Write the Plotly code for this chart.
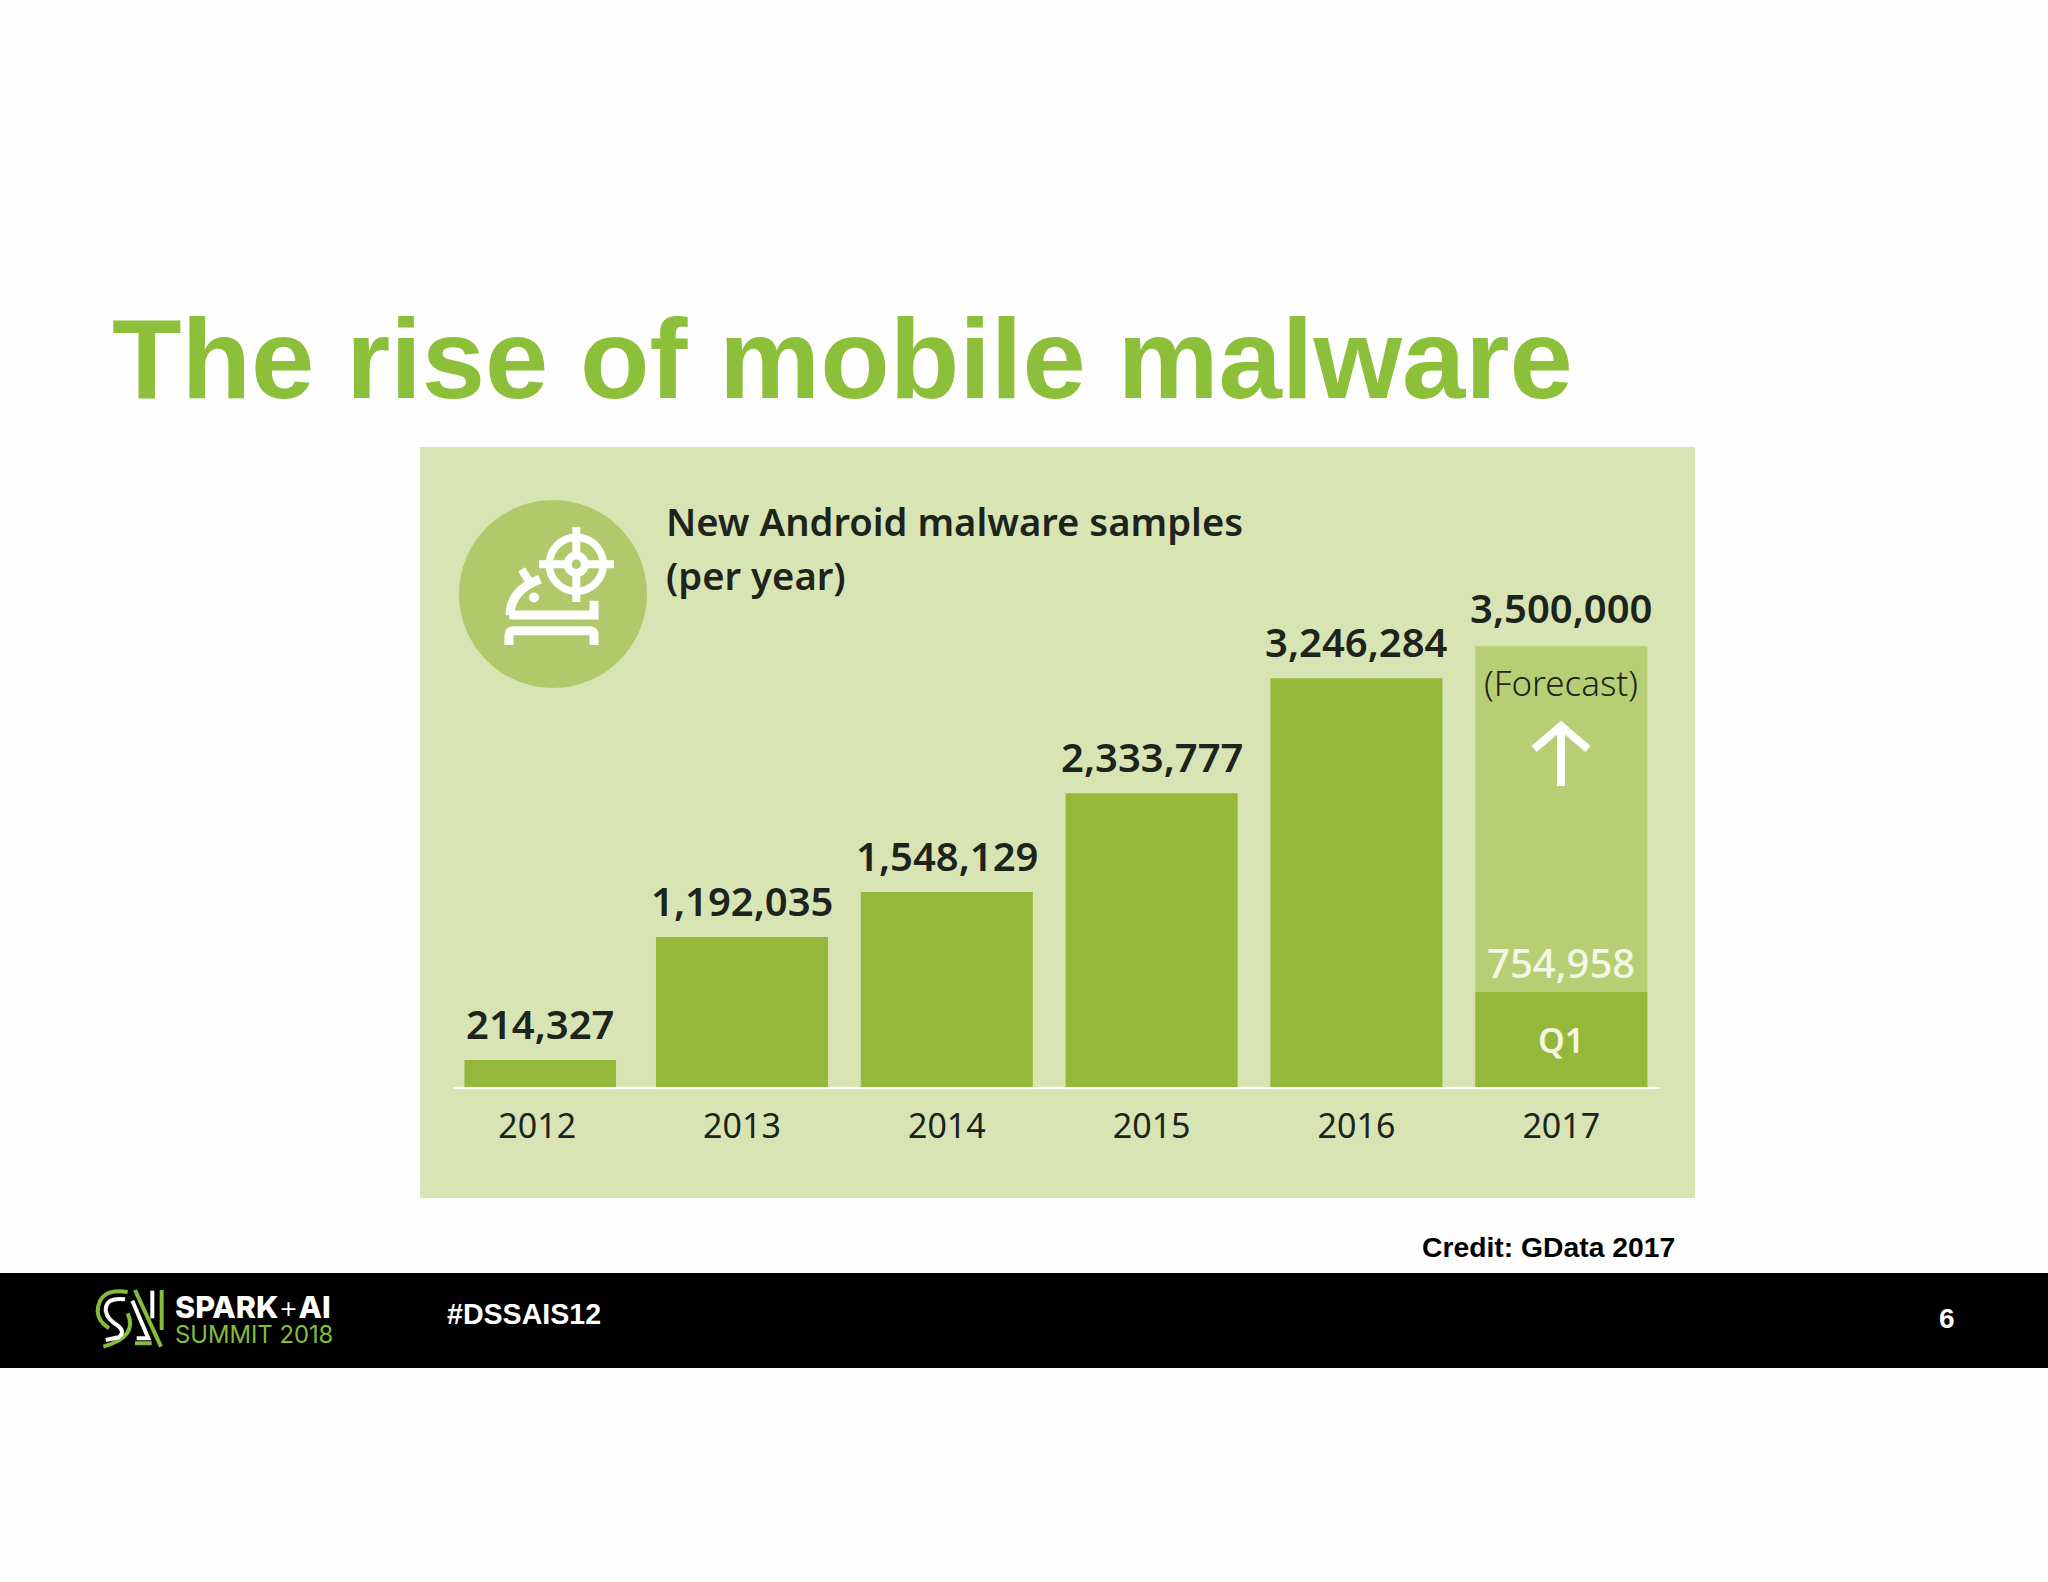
import plotly.graph_objects as go

W = 2048
H = 1582

# chart data
years = ["2012", "2013", "2014", "2015", "2016", "2017"]
samples = [214327, 1192035, 1548129, 2333777, 3246284]
forecast_2017 = 3500000
q1_2017 = 754958
chart_title = ["New Android malware samples", "(per year)"]

GREEN = "#94b83a"
LIGHT = "#b8ce75"
PANEL = "#d9e4b4"
CIRCLE = "#b2c96b"
DARK = "#1c241c"
TITLE = "#8cc03a"


def px(x):
    return x / W


def py(y):
    return 1 - y / H


def rect(x0, y0, x1, y1, color):
    return dict(type="rect", xref="paper", yref="paper", x0=px(x0), x1=px(x1), y0=py(y0), y1=py(y1),
                fillcolor=color, line_width=0, layer="below")


def circle(cx, cy, r, fill, line=None, width=0):
    return dict(type="circle", xref="paper", yref="paper", x0=px(cx - r), x1=px(cx + r), y0=py(cy + r), y1=py(cy - r),
                fillcolor=fill, line=dict(color=line or fill, width=width))


def path(d, ox, oy, k, color, width):
    # d is a list of (command, x, y, ...) in zoomed pixels
    out = ""
    for seg in d:
        out += seg[0]
        vals = seg[1:]
        pts = []
        for i in range(0, len(vals), 2):
            pts.append(f"{px(ox + vals[i] / k):.5f},{py(oy + vals[i + 1] / k):.5f}")
        out += " ".join(pts) + " "
    return dict(type="path", xref="paper", yref="paper", path=out.strip(), line=dict(color=color, width=width))


def label(x, y, text, size, color=DARK, weight=400, font="Noto Sans", xanchor="center", yanchor="middle",
          xref="paper", yref="paper", yshift=0):
    if xref == "paper":
        x = px(x)
    if yref == "paper":
        y = py(y)
    return dict(x=x, y=y, xref=xref, yref=yref, text=text, showarrow=False, xanchor=xanchor, yanchor=yanchor,
                yshift=yshift, font=dict(family=font, size=size, color=color, weight=weight))


fig = go.Figure()

# the 2012 bar is narrower and sits a little right of its slot in the original
widths = [0.74, 0.84, 0.84, 0.84, 0.84]
offsets = [-0.355, -0.42, -0.42, -0.42, -0.42]
fig.add_trace(go.Bar(x=years[:5], y=samples, width=widths, offset=offsets, marker=dict(color=GREEN, line_width=0)))
fig.add_trace(go.Bar(x=years[5:], y=[forecast_2017], width=[0.84], marker=dict(color=LIGHT, line_width=0)))
fig.add_trace(go.Bar(x=years[5:], y=[q1_2017], width=[0.84], marker=dict(color=GREEN, line_width=0)))

shapes = [
    rect(420, 447, 1695, 1198, PANEL),
    rect(0, 1273, W, 1368, "#000000"),
    circle(553, 594, 94, CIRCLE),
    # target
    circle(576.3, 564.3, 27, "rgba(0,0,0,0)", "white", 7.5),
    rect(572.3, 527, 580.3, 602, "white"),
    rect(539, 560.3, 614, 568.3, "white"),
    circle(576.3, 564.3, 8.7, CIRCLE, "white", 8),
]
for s in shapes[3:]:
    s["layer"] = "above"

# android robot
ox, oy = 490, 510
shapes += [
    path([("M", 60, 315), ("Q", 62, 240, 150, 208)], ox, oy, 3, "white", 9),
    path([("M", 95, 178), ("L", 125, 225)], ox, oy, 3, "white", 8),
    path([("M", 58, 315), ("L", 312, 315), ("L", 312, 272)], ox, oy, 3, "white", 9),
    circle(534, 597.5, 5, "white"),
    path([("M", 57, 405), ("L", 57, 375), ("Q", 57, 362, 70, 362), ("L", 300, 362), ("Q", 312, 362, 312, 375),
          ("L", 312, 405)], ox, oy, 3, "white", 9),
]

# forecast arrow
shapes += [
    path([("M", 1561, 786), ("L", 1561, 725)], 0, 0, 1, "white", 8),
    path([("M", 1534, 749), ("L", 1561, 726), ("L", 1588, 749)], 0, 0, 1, "white", 8),
]

# summit logo
ox, oy = 85, 1280
LOGO = "#84bd3a"
shapes += [
    path([("M", 128, 36), ("Q", 40, 22, 38, 95), ("Q", 40, 125, 72, 145)], ox, oy, 3, LOGO, 4),
    path([("M", 128, 100), ("Q", 160, 170, 55, 200)], ox, oy, 3, LOGO, 4),
    path([("M", 120, 58), ("Q", 62, 50, 62, 92), ("Q", 66, 118, 100, 138), ("Q", 122, 158, 100, 172), ("L", 62, 180)],
         ox, oy, 3, "white", 4),
    path([("M", 142, 62), ("L", 190, 175), ("L", 155, 175)], ox, oy, 3, "white", 4),
    path([("M", 150, 30), ("L", 228, 200), ("M", 150, 190), ("L", 200, 190)], ox, oy, 3, LOGO, 4),
    path([("M", 202, 32), ("L", 202, 115)], ox, oy, 3, "white", 4),
    path([("M", 230, 30), ("L", 230, 150)], ox, oy, 3, LOGO, 4),
]

annotations = [
    label(110, 358, "The rise of mobile malware", 113.8, TITLE, 700, "Liberation Sans", xanchor="left"),
    label(664, 521, chart_title[0], 38.2, DARK, 600, xanchor="left"),
    label(664, 575, chart_title[1], 38.2, DARK, 600, xanchor="left"),
    label(1420, 1247, "Credit: GData 2017", 28.3, "#000000", 700, "Liberation Sans", xanchor="left"),
    label(445, 1314, "#DSSAIS12", 28.6, "white", 700, "Liberation Sans", xanchor="left"),
    label(1947, 1318, "6", 28, "white", 700, "Liberation Sans"),
    label(173, 1306, "SPARK<span style='font-weight:300'>+</span>AI", 30.5, "white", 800, "Inter", xanchor="left"),
    label(173, 1334, "SUMMIT 2018", 23.8, LOGO, 400, "Inter", xanchor="left"),
]

# numeric-looking category names are read as positions on a category axis, so use the index
for i, value in enumerate(samples):
    xpos = i + 0.015 if i == 0 else i
    annotations.append(label(xpos, value, f"{value:,}", 40, DARK, 600, xref="x", yref="y", yanchor="bottom", yshift=7))
annotations += [
    label(5, forecast_2017, f"{forecast_2017:,}", 40, DARK, 600, xref="x", yref="y", yanchor="bottom", yshift=9),
    label(5, forecast_2017, "(Forecast)", 35, DARK, 300, xref="x", yref="y", yanchor="top", yshift=-11),
    label(5, q1_2017, f"{q1_2017:,}", 40, "#f4f7e6", 500, xref="x", yref="y", yanchor="bottom", yshift=0),
    label(5, q1_2017 / 2, "Q1", 34, "#f4f7e6", 600, xref="x", yref="y", yshift=-1),
]

fig.update_layout(
    width=W,
    height=H,
    margin=dict(l=0, r=0, t=0, b=0),
    paper_bgcolor="#fefefe",
    plot_bgcolor="rgba(0,0,0,0)",
    barmode="overlay",
    showlegend=False,
    shapes=shapes,
    annotations=annotations,
    xaxis=dict(
        domain=[453 / W, 1660 / W],
        type="category",
        categoryorder="array",
        categoryarray=years,
        range=[-0.411, 5.482],
        showgrid=False,
        zeroline=False,
        showline=True,
        linecolor="white",
        linewidth=2,
        ticks="",
        ticklabelstandoff=8,
        tickfont=dict(family="Noto Sans", size=34, color=DARK),
    ),
    yaxis=dict(
        domain=[1 - 1087 / H, 1 - 447 / H],
        range=[0, 640 / 125.9e-6],
        visible=False,
    ),
)

fig.write_html("out.html", post_script="document.body.style.margin='0';", config=dict(displayModeBar=False))
